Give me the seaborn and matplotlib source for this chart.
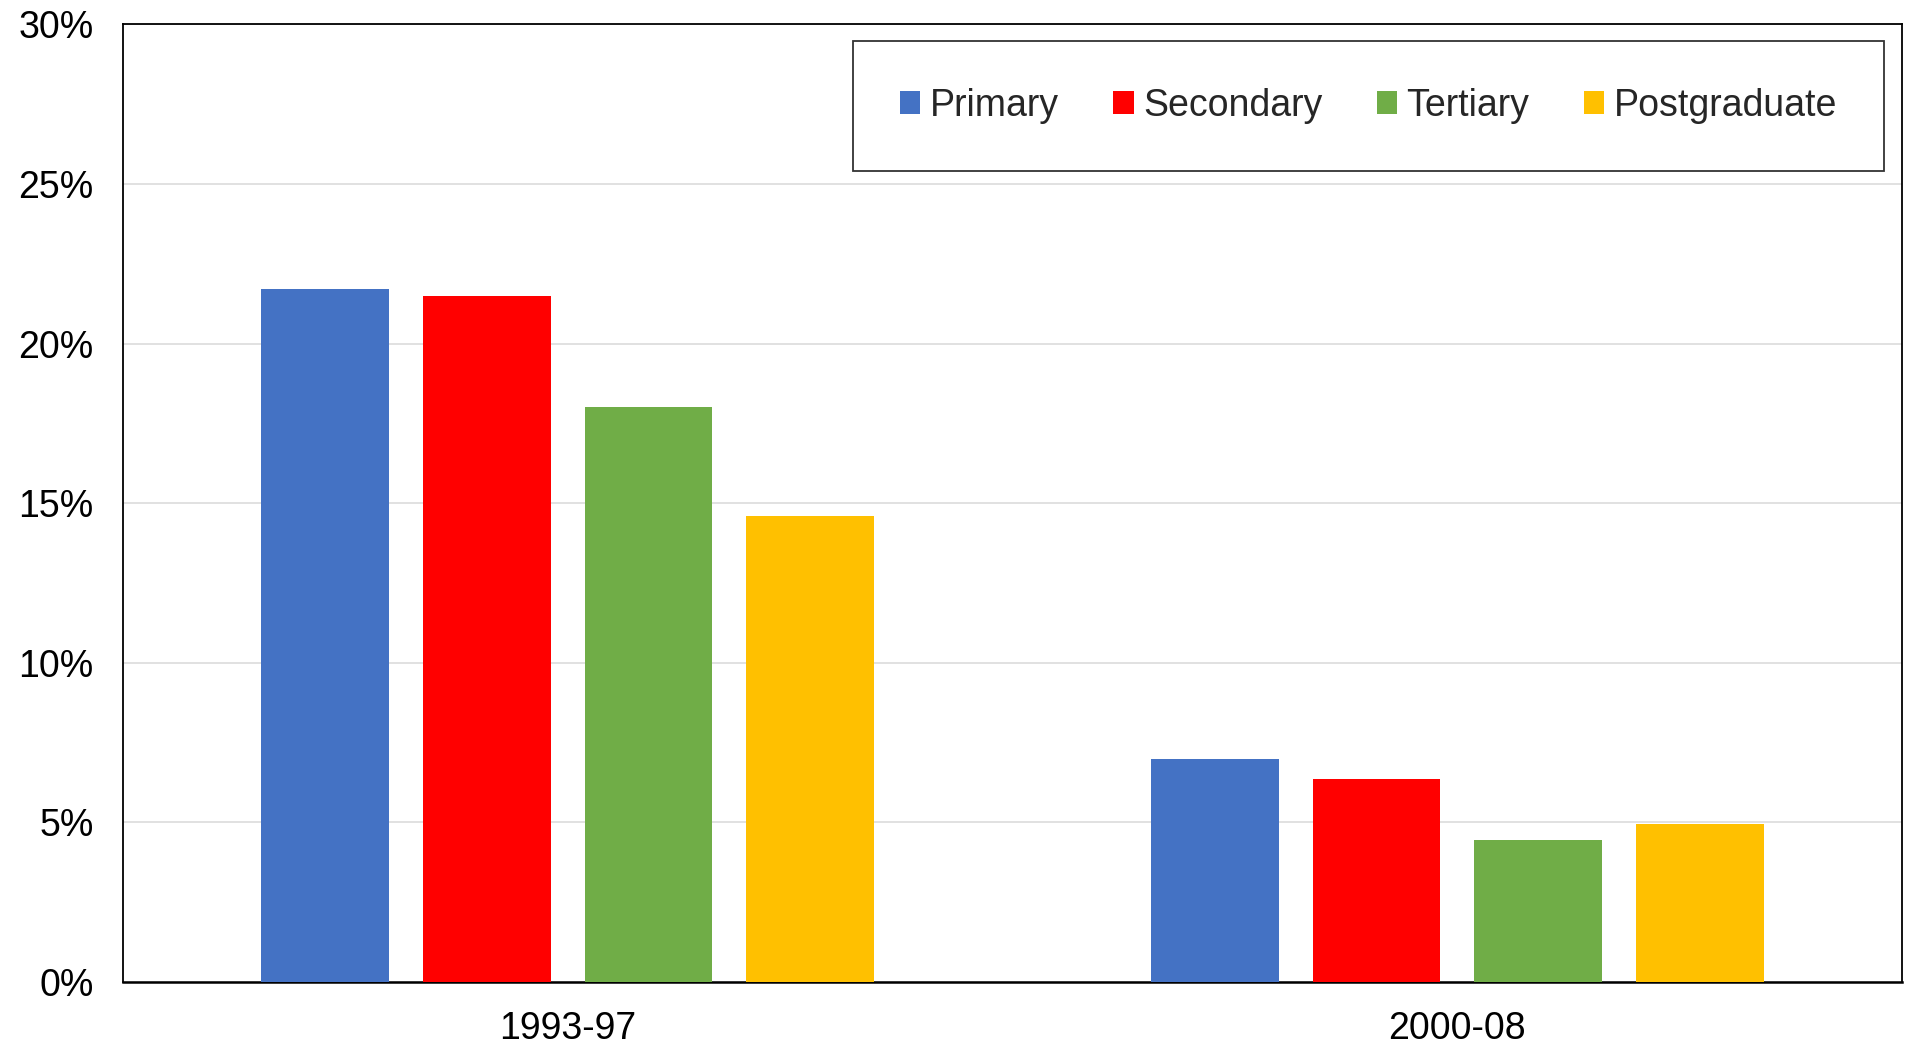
import matplotlib
matplotlib.use("Agg")
import matplotlib.pyplot as plt
import seaborn as sns
import pandas as pd
from matplotlib.ticker import FuncFormatter, MultipleLocator

periods = ["1993-97", "2000-08"]
levels = ["Primary", "Secondary", "Tertiary", "Postgraduate"]
primary = [21.7, 7.0]
secondary = [21.5, 6.35]
tertiary = [18.0, 4.45]
postgraduate = [14.6, 4.95]
colors = ["#4472C4", "#FF0000", "#70AD47", "#FFC000"]

rows = []
for lvl, vals in zip(levels, [primary, secondary, tertiary, postgraduate]):
    for p, v in zip(periods, vals):
        rows.append({"period": p, "level": lvl, "value": v})
df = pd.DataFrame(rows)

sns.set_style("white")
plt.rcParams["font.family"] = ["Liberation Sans", "DejaVu Sans"]

fig = plt.figure(figsize=(19.06, 10.44), dpi=100)
ax = fig.add_axes([123 / 1906, 1 - 982 / 1044, (1902 - 123) / 1906, (982 - 24.3) / 1044])

sns.barplot(data=df, x="period", y="value", hue="level", order=periods,
            hue_order=levels, palette=colors, width=0.727, gap=0.21,
            saturation=1, ax=ax, zorder=3, linewidth=0)

ax.set_ylim(0, 30)
ax.set_xlim(-0.5, 1.5)
ax.yaxis.set_major_locator(MultipleLocator(5))
ax.yaxis.set_major_formatter(FuncFormatter(lambda v, p: f"{v:.0f}%"))
ax.grid(axis="y", color="#d9d9d9", linewidth=1.1, zorder=0)
ax.set_axisbelow(True)
ax.set_xlabel("")
ax.set_ylabel("")
ax.tick_params(axis="both", length=0, labelsize=27, colors="black")
ax.tick_params(axis="x", pad=21)
ax.tick_params(axis="y", pad=21)
for s in ax.spines.values():
    s.set_visible(True)
    s.set_color("black")
    s.set_linewidth(1.3)
ax.spines["bottom"].set_linewidth(1.8)

handles, labels = ax.get_legend_handles_labels()
if ax.get_legend() is not None:
    ax.get_legend().remove()
leg = ax.legend(handles, labels, ncol=4, loc="upper left",
                bbox_to_anchor=(0.4103, 0.8468, 0.5796, 0.1358), mode="expand",
                fontsize=27, frameon=True, fancybox=False, borderpad=1.25,
                handlelength=0.55, handleheight=0.55, handletextpad=0.25,
                columnspacing=1.5, borderaxespad=0)
leg.get_frame().set_edgecolor("black")
leg.get_frame().set_linewidth(1.3)

fig.savefig("out.png", dpi=100)
